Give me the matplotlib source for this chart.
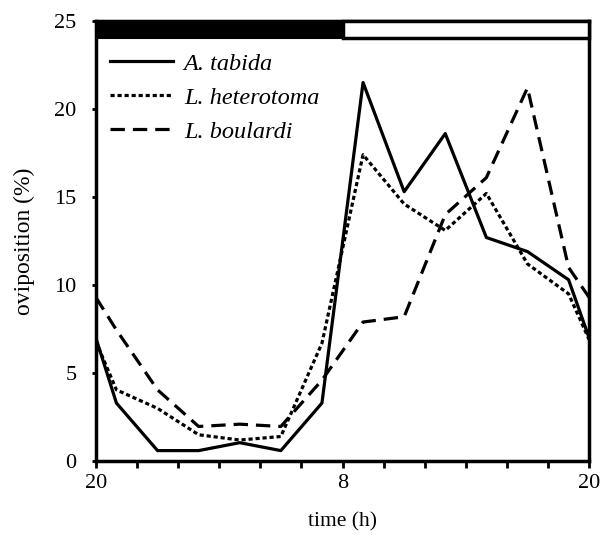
import numpy as np
import matplotlib.pyplot as plt
from matplotlib.patches import Rectangle

plt.rcParams['font.family'] = ['Liberation Serif', 'DejaVu Serif']

# hours after 20:00
hours = [0, 1, 3, 5, 7, 9, 11, 13, 15, 17, 19, 21, 23, 24]
tabida = [7.0, 3.3, 0.6, 0.6, 1.05, 0.6, 3.3, 21.5, 15.3, 18.6, 12.7, 11.9, 10.3, 7.0]
heterotoma = [6.8, 4.05, 3.0, 1.5, 1.2, 1.4, 6.7, 17.4, 14.6, 13.1, 15.2, 11.2, 9.5, 6.9]
boulardi = [9.3, 7.45, 4.05, 1.97, 2.1, 1.97, 4.6, 7.9, 8.2, 14.0, 16.1, 21.2, 11.0, 9.3]

major_ticks = [0, 12, 24]
major_labels = ['20', '8', '20']
ytick_vals = [0, 5, 10, 15, 20, 25]

fig = plt.figure(figsize=(6.03, 5.35), dpi=100)
ax = fig.add_axes([0.159, 0.138, 0.818, 0.823])

lw = 2.3
ax.plot(hours, tabida, color='black', lw=lw, label='A. tabida')
ax.plot(hours, heterotoma, color='black', lw=lw, dashes=(1.3, 0.9),
        label='L. heterotoma')
ax.plot(hours, boulardi, color='black', lw=lw, dashes=(4.5, 2.5),
        label='L. boulardi')

# light / dark bar along the top
ax.add_patch(Rectangle((0, 24), 12, 1, facecolor='black', edgecolor='black',
                       lw=1.5, zorder=5, clip_on=False))
ax.add_patch(Rectangle((12, 24), 12, 1, facecolor='white', edgecolor='black',
                       lw=2.5, zorder=5, clip_on=False))

ax.set_xlim(0, 24)
ax.set_ylim(0, 25)
ax.set_xticks(major_ticks)
ax.set_xticklabels(major_labels)
ax.set_xticks(np.arange(0, 25, 2), minor=True)
ax.set_yticks(ytick_vals)

for s in ax.spines.values():
    s.set_linewidth(2.5)

ax.tick_params(axis='both', which='both', direction='out', width=2,
               labelsize=16)
ax.tick_params(axis='x', which='both', length=5, pad=4)
ax.tick_params(axis='y', length=3, pad=11)

ax.set_xlabel('time (h)', fontsize=15.5, labelpad=14)
ax.set_ylabel('oviposition (%)', fontsize=17, labelpad=14)

leg = ax.legend(loc='upper left', bbox_to_anchor=(0.028, 0.928), frameon=False,
                prop={'style': 'italic', 'size': 17.5}, handlelength=2.6,
                handletextpad=0.45, labelspacing=0.5, borderpad=0,
                borderaxespad=0)

fig.savefig('out.png', dpi=100)
